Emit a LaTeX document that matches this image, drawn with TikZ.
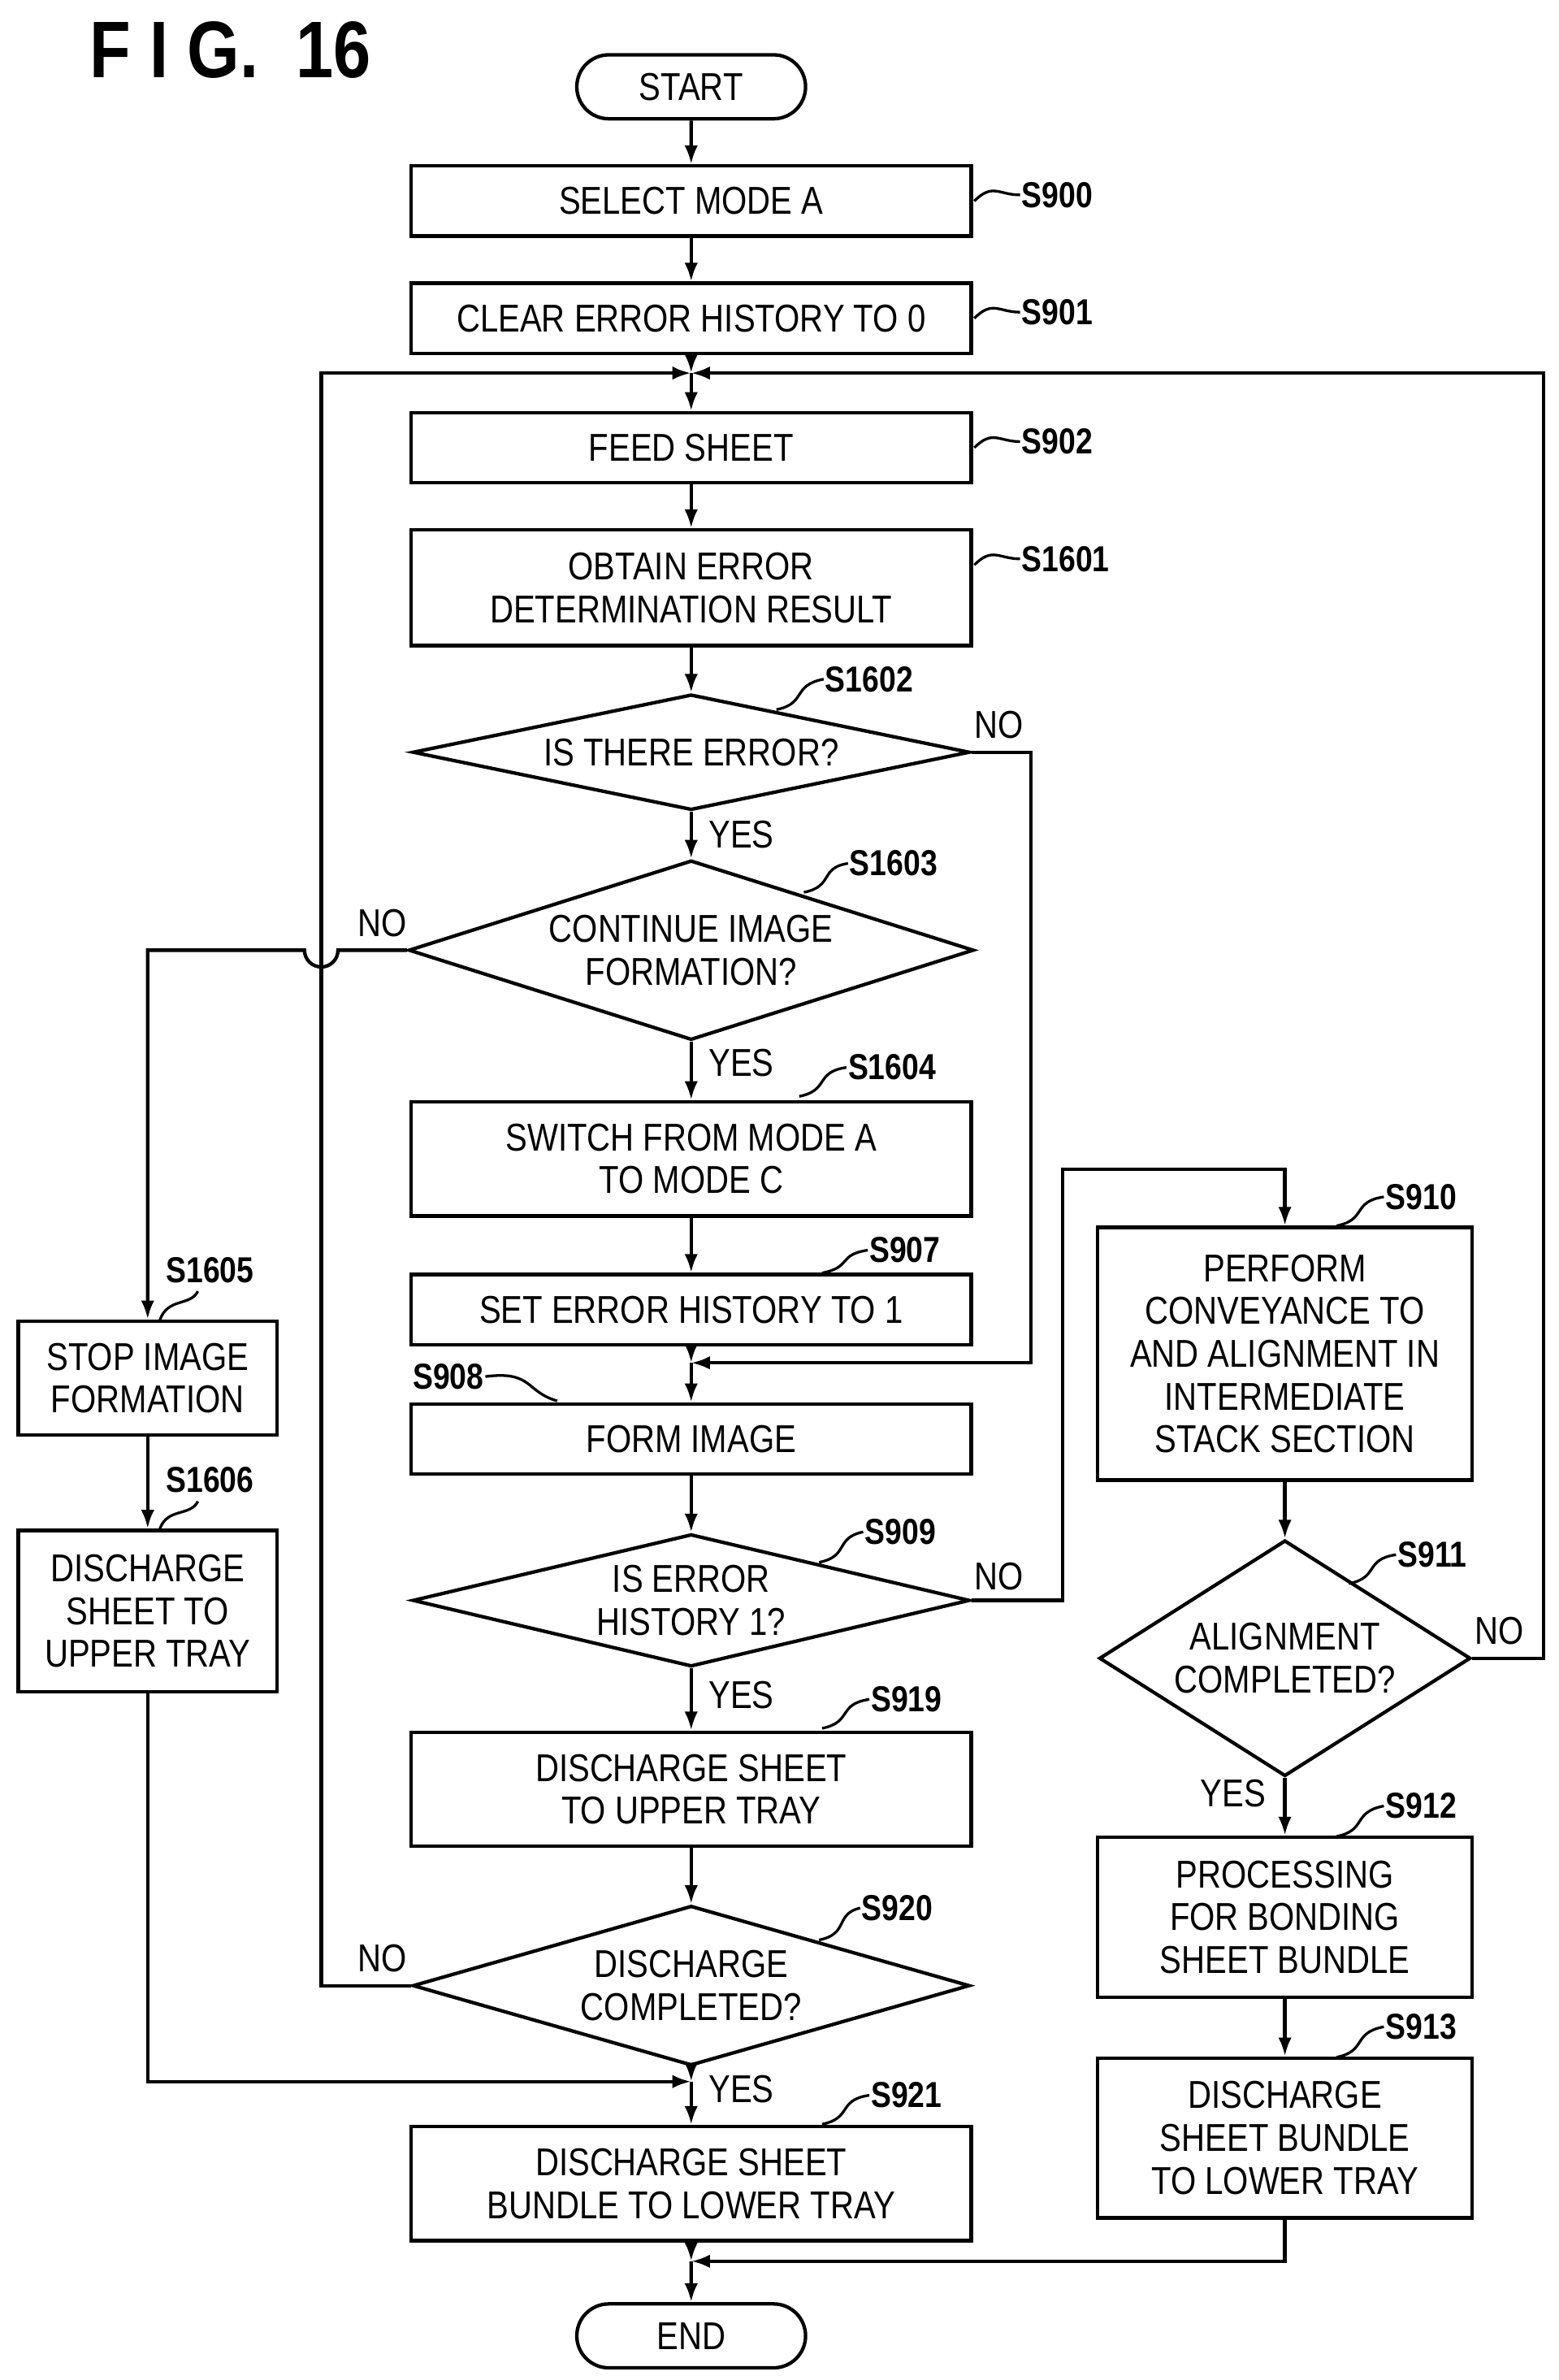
\documentclass[tikz,border=0pt]{standalone}
\usepackage{fontspec}
\setmainfont{Liberation Sans}[FakeStretch=0.84]
\usetikzlibrary{shapes.geometric,arrows.meta}
\begin{document}
\begin{tikzpicture}[x=0.02cm,y=-0.02cm,line width=1.3pt,
 box/.style={draw,rectangle,inner sep=0pt,align=center,font=\fontsize{14.5}{16}\selectfont,minimum width=7.36cm},
 dia/.style={draw,diamond,inner sep=0pt,align=center,font=\fontsize{14.5}{16}\selectfont,minimum width=7.32cm,aspect=4},
 term/.style={draw,rounded rectangle,minimum width=3.24cm,minimum height=0.84cm,font=\fontsize{14.5}{16}\selectfont},
 lab/.style={font=\fontsize{13.5}{15}\bfseries\selectfont,anchor=west,inner sep=0pt},
 yn/.style={font=\fontsize{14.5}{16}\selectfont,inner sep=0pt},
 arr/.style={-{Latex[length=7pt,width=5pt]}}]
\useasboundingbox (0,0) rectangle (1024,1563);
\usetikzlibrary{shapes.misc}
\node[anchor=west,inner sep=0pt,font=\fontsize{30}{32}\bfseries\selectfont] (title) at (58,33) {F I G.\ \ 16};
\node[term] (start) at (454,57) {START};
\node[box,minimum height=0.92cm] (s900) at (454,132) {SELECT MODE A};
\node[box,minimum height=0.92cm] (s901) at (454,209) {CLEAR ERROR HISTORY TO 0};
\coordinate (m1) at (454,245);
\node[box,minimum height=0.92cm] (s902) at (454,294) {FEED SHEET};
\node[box,minimum height=1.52cm] (s1601) at (454,386) {OBTAIN ERROR\\DETERMINATION RESULT};
\node[dia,minimum height=1.52cm] (s1602) at (454,494) {IS THERE ERROR?};
\node[dia,minimum height=2.36cm] (s1603) at (454,624) {CONTINUE IMAGE\\FORMATION?};
\node[box,minimum height=1.5cm] (s1604) at (454,761) {SWITCH FROM MODE A\\TO MODE C};
\node[box,minimum height=0.92cm] (s907) at (454,860) {SET ERROR HISTORY TO 1};
\coordinate (m2) at (454,895);
\node[box,minimum height=0.92cm] (s908) at (454,945) {FORM IMAGE};
\node[dia,minimum height=1.74cm] (s909) at (454,1051) {IS ERROR\\HISTORY 1?};
\node[box,minimum height=1.5cm] (s919) at (454,1175) {DISCHARGE SHEET\\TO UPPER TRAY};
\node[dia,minimum height=2.1cm] (s920) at (454,1304) {DISCHARGE\\COMPLETED?};
\coordinate (m3) at (454,1367);
\node[box,minimum height=1.5cm] (s921) at (454,1434) {DISCHARGE SHEET\\BUNDLE TO LOWER TRAY};
\coordinate (m4) at (454,1485);
\node[term] (end) at (454,1534) {END};
\node[box,minimum width=4.92cm,minimum height=3.32cm] (s910) at (844,889) {PERFORM\\CONVEYANCE TO\\AND ALIGNMENT IN\\INTERMEDIATE\\STACK SECTION};
\node[dia,minimum width=4.88cm,minimum height=3.1cm,aspect=1.6] (s911) at (844,1089) {ALIGNMENT\\COMPLETED?};
\node[box,minimum width=4.92cm,minimum height=2.1cm] (s912) at (844,1259) {PROCESSING\\FOR BONDING\\SHEET BUNDLE};
\node[box,minimum width=4.92cm,minimum height=2.1cm] (s913) at (844,1404) {DISCHARGE\\SHEET BUNDLE\\TO LOWER TRAY};
\node[box,minimum width=3.4cm,minimum height=1.5cm] (s1605) at (97,905) {STOP IMAGE\\FORMATION};
\node[box,minimum width=3.4cm,minimum height=2.12cm] (s1606) at (97,1058) {DISCHARGE\\SHEET TO\\UPPER TRAY};
% main arrows
\draw[arr] (start) -- (s900);
\draw[arr] (s900) -- (s901);
\draw[arr] (s901) -- (m1);
\draw[arr] (m1) -- (s902);
\draw[arr] (s902) -- (s1601);
\draw[arr] (s1601) -- (s1602);
\draw[arr] (s1602) -- (s1603);
\draw[arr] (s1603) -- (s1604);
\draw[arr] (s1604) -- (s907);
\draw[arr] (s907) -- (m2);
\draw[arr] (m2) -- (s908);
\draw[arr] (s908) -- (s909);
\draw[arr] (s909) -- (s919);
\draw[arr] (s919) -- (s920);
\draw[arr] (s920) -- (m3);
\draw[arr] (m3) -- (s921);
\draw[arr] (s921) -- (m4);
\draw[arr] (m4) -- (end);
\draw[arr] (s910) -- (s911);
\draw[arr] (s911) -- (s912);
\draw[arr] (s912) -- (s913);
\draw[arr] (s1605) -- (s1606);
% branches
\draw[arr] (s1602.east) -- (677,494) -- (677,895) -- (m2);
\draw[arr] (s909.east) -- (698,1051) -- (698,768) -- (844,768) -- (s910.north);
\draw[arr] (s911.east) -- (1014,1089) -- (1014,245) -- (m1);
\draw[arr] (s920.west) -- (211,1304) -- (211,245) -- (m1);
\draw[arr] (s1603.west) -- (222,624) arc (0:180:11) -- (97,624) -- (s1605.north);
\draw[arr] (s1606.south) -- (97,1367) -- (m3);
\draw[arr] (s913.south) -- (844,1485) -- (m4);
% yes/no
\node[yn] at (656,476) {NO};
\node[yn] at (487,548) {YES};
\node[yn] at (251,606) {NO};
\node[yn] at (487,698) {YES};
\node[yn] at (656,1035) {NO};
\node[yn] at (487,1113) {YES};
\node[yn] at (251,1286) {NO};
\node[yn] at (487,1372) {YES};
\node[yn] at (985,1071) {NO};
\node[yn] at (810,1178) {YES};
% step labels
\tikzset{tl/.style={line width=1pt}}
\node[lab] (l900) at (670,128) {S900};
\draw[tl] (640,132) .. controls (652,120) and (656,128) .. (l900.west);
\node[lab] (l901) at (670,205) {S901};
\draw[tl] (640,209) .. controls (652,197) and (656,205) .. (l901.west);
\node[lab] (l902) at (670,290) {S902};
\draw[tl] (640,294) .. controls (652,282) and (656,290) .. (l902.west);
\node[lab] (l1601) at (670,367) {S1601};
\draw[tl] (640,371) .. controls (652,359) and (656,367) .. (l1601.west);
\node[lab] (l1602) at (541,446) {S1602};
\draw[tl] (510,466) .. controls (530,462) and (520,450) .. (l1602.west);
\node[lab] (l1603) at (557,567) {S1603};
\draw[tl] (528,586) .. controls (548,582) and (538,570) .. (l1603.west);
\node[lab] (l1604) at (556,701) {S1604};
\draw[tl] (525,720) .. controls (545,716) and (535,704) .. (l1604.west);
\node[lab] (l907) at (570,821) {S907};
\draw[tl] (540,836) .. controls (560,832) and (550,824) .. (l907.west);
\node[lab] (l908) at (270,904) {S908};
\draw[tl] (l908.east) .. controls (350,900) and (345,914) .. (366,920);
\node[lab] (l909) at (567,1006) {S909};
\draw[tl] (538,1026) .. controls (558,1022) and (548,1010) .. (l909.west);
\node[lab] (l919) at (571,1116) {S919};
\draw[tl] (540,1135) .. controls (560,1131) and (550,1119) .. (l919.west);
\node[lab] (l920) at (565,1253) {S920};
\draw[tl] (538,1274) .. controls (558,1270) and (548,1257) .. (l920.west);
\node[lab] (l921) at (571,1376) {S921};
\draw[tl] (540,1395) .. controls (560,1391) and (550,1379) .. (l921.west);
\node[lab] (l910) at (909,786) {S910};
\draw[tl] (878,805) .. controls (898,801) and (888,789) .. (l910.west);
\node[lab] (l911) at (917,1021) {S911};
\draw[tl] (886,1040) .. controls (906,1036) and (896,1024) .. (l911.west);
\node[lab] (l912) at (909,1186) {S912};
\draw[tl] (878,1206) .. controls (898,1202) and (888,1190) .. (l912.west);
\node[lab] (l913) at (909,1331) {S913};
\draw[tl] (878,1351) .. controls (898,1347) and (888,1335) .. (l913.west);
\node[lab] (l1605) at (108,834) {S1605};
\draw[tl] (105,867) .. controls (110,852) and (125,858) .. (130,848);
\node[lab] (l1606) at (108,972) {S1606};
\draw[tl] (105,1004) .. controls (110,990) and (125,996) .. (130,986);
\end{tikzpicture}
\end{document}
